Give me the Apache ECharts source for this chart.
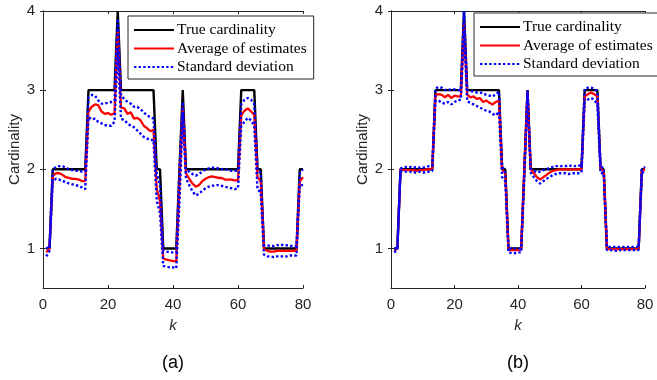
<!DOCTYPE html>
<html>
<head>
<meta charset="utf-8">
<script src="https://cdn.jsdelivr.net/npm/echarts@6/dist/echarts.min.js"></script>
<style>html,body{margin:0;padding:0;background:#fff}#c{width:657px;height:380px}</style>
</head>
<body>
<div id="c"></div>
<script>
var kSteps = [1,2,3,4,5,6,7,8,9,10,11,12,13,14,15,16,17,18,19,20,21,22,23,24,25,26,27,28,29,30,31,32,33,34,35,36,37,38,39,40,41,42,43,44,45,46,47,48,49,50,51,52,53,54,55,56,57,58,59,60,61,62,63,64,65,66,67,68,69,70,71,72,73,74,75,76,77,78,79,80];

var trueCard = [1,1,2,2,2,2,2,2,2,2,2,2,2,3,3,3,3,3,3,3,3,3,4,3,3,3,3,3,3,3,3,3,3,3,2,2,1,1,1,1,1,2,3,2,2,2,2,2,2,2,2,2,2,2,2,2,2,2,2,2,3,3,3,3,3,2,2,1,1,1,1,1,1,1,1,1,1,1,2,2];

var avgA = [0.95,1.0,1.92,1.95,1.95,1.93,1.90,1.89,1.88,1.88,1.87,1.85,1.85,
  2.73,2.79,2.82,2.81,2.73,2.70,2.71,2.69,2.71,3.75,
  2.78,2.77,2.70,2.72,2.64,2.65,2.62,2.55,2.52,2.48,2.50,
  1.75,1.6,0.87,0.86,0.85,0.84,0.84,1.8,2.79,
  1.95,1.88,1.82,1.78,1.80,1.85,1.88,1.90,1.91,1.90,1.89,1.89,1.87,1.87,1.87,1.86,1.86,
  2.68,2.74,2.77,2.73,2.69,1.9,1.85,
  0.99,0.97,0.96,0.96,0.97,0.97,0.97,0.97,0.97,0.97,0.97,1.85,1.9];

var upperA = [1.0,1.02,2.0,2.03,2.04,2.04,2.02,2.0,1.99,1.98,1.98,1.97,1.97,
  2.91,2.94,2.93,2.87,2.83,2.83,2.84,2.85,2.87,3.9,
  2.93,2.89,2.85,2.83,2.79,2.79,2.76,2.72,2.68,2.66,2.64,
  1.95,1.8,0.97,0.96,0.95,0.95,0.95,2.0,2.85,
  2.0,1.97,1.94,1.92,1.94,1.97,2.0,2.01,2.02,2.02,2.01,2.0,2.0,1.99,1.98,1.98,1.98,
  2.82,2.88,2.9,2.88,2.82,2.0,1.95,
  1.04,1.04,1.03,1.03,1.04,1.05,1.04,1.04,1.03,1.03,1.03,1.95,2.0];

var lowerA = [0.9,0.97,1.85,1.88,1.87,1.85,1.84,1.82,1.81,1.80,1.79,1.77,1.75,
  2.66,2.63,2.64,2.60,2.58,2.56,2.55,2.55,2.60,3.5,
  2.64,2.62,2.58,2.55,2.53,2.49,2.45,2.41,2.39,2.37,2.37,
  1.6,1.45,0.78,0.77,0.76,0.76,0.75,1.6,2.7,
  1.88,1.8,1.72,1.67,1.69,1.73,1.76,1.78,1.79,1.8,1.8,1.79,1.78,1.77,1.76,1.75,1.76,
  2.55,2.6,2.65,2.62,2.55,1.75,1.7,
  0.92,0.9,0.9,0.89,0.9,0.9,0.9,0.9,0.91,0.91,0.91,1.8,1.8];

var avgB = [0.97,1.0,2.0,1.99,1.99,1.99,1.99,1.98,1.99,1.99,2.0,2.0,2.0,
  2.94,2.95,2.94,2.91,2.94,2.9,2.93,2.92,2.92,3.85,
  2.94,2.91,2.92,2.89,2.9,2.85,2.87,2.84,2.82,2.85,2.87,
  2.0,1.95,0.98,0.98,0.98,0.98,0.99,2.0,2.98,
  2.0,1.95,1.9,1.87,1.9,1.93,1.96,1.98,1.99,2.0,2.0,2.0,2.0,2.0,2.0,2.0,2.0,
  2.92,2.95,2.97,2.95,2.92,2.0,1.98,
  0.99,0.99,0.99,0.99,0.99,0.99,0.99,0.99,0.99,0.99,0.99,1.98,2.0];

var upperB = [1.0,1.0,2.01,2.02,2.03,2.03,2.02,2.03,2.02,2.02,2.03,2.04,2.05,
  3.02,3.04,3.03,3.0,3.01,3.0,3.01,3.0,3.0,4.0,
  3.0,2.99,2.98,2.97,2.97,2.96,2.94,2.93,2.92,2.95,2.98,
  2.05,1.95,1.0,1.0,1.0,1.0,1.0,2.0,3.0,
  2.01,1.98,1.96,1.97,1.99,2.0,2.02,2.03,2.04,2.04,2.04,2.04,2.05,2.04,2.04,2.05,2.04,
  3.02,3.03,3.03,3.02,2.98,2.05,2.0,
  1.02,1.02,1.02,1.02,1.02,1.02,1.02,1.02,1.02,1.02,1.02,2.0,2.03];

var lowerB = [0.95,0.98,1.98,1.97,1.97,1.97,1.96,1.96,1.97,1.96,1.96,1.97,1.98,
  2.86,2.87,2.84,2.83,2.85,2.82,2.85,2.87,2.88,3.75,
  2.86,2.84,2.82,2.8,2.78,2.76,2.74,2.73,2.7,2.68,2.73,
  1.9,1.85,0.95,0.94,0.94,0.95,0.95,1.9,2.95,
  1.96,1.9,1.85,1.82,1.85,1.88,1.9,1.93,1.94,1.95,1.95,1.95,1.94,1.95,1.95,1.95,1.96,
  2.85,2.88,2.9,2.88,2.82,1.95,1.95,
  0.98,0.98,0.98,0.97,0.98,0.98,0.98,0.98,0.98,0.98,0.98,1.95,1.98];

var xTicks = [0, 20, 40, 60, 80];
var yTicks = [1, 2, 3, 4];
var panelLabels = ['(a)', '(b)'];
var names = ['True cardinality', 'Average of estimates', 'Standard deviation'];

function pairs(vals) { return kSteps.map(function (k, i) { return [k, vals[i]]; }); }

var axisColor = '#262626';
var grids = [
  { left: 43, top: 11, width: 260, height: 277 },
  { left: 391, top: 11, width: 254, height: 277 }
];
var xAxes = [], yAxes = [], series = [], legends = [], graphics = [];
var panels = [
  { avg: avgA, up: upperA, lo: lowerA, legendLeft: 128, legendTop: 16 },
  { avg: avgB, up: upperB, lo: lowerB, legendLeft: 474, legendTop: 13 }
];

panels.forEach(function (p, g) {
  var common = {
    gridIndex: g, type: 'value', min: 0, max: 80, interval: 20,
    axisLine: { show: true, lineStyle: { color: axisColor, width: 1 } },
    splitLine: { show: false }
  };
  xAxes.push(Object.assign({}, common, {
    position: 'bottom',
    name: 'k', nameLocation: 'middle', nameGap: 30,
    nameTextStyle: { fontFamily: 'Liberation Sans', fontSize: 15, fontStyle: 'italic', color: axisColor },
    axisLabel: { show: true, color: axisColor, fontFamily: 'Liberation Sans', fontSize: 15, margin: 9,
      customValues: xTicks },
    axisTick: { show: true, inside: true, length: 3, lineStyle: { color: axisColor }, customValues: xTicks }
  }));
  xAxes.push(Object.assign({}, common, {
    position: 'top', axisLabel: { show: false },
    axisTick: { show: true, inside: true, length: 3, lineStyle: { color: axisColor }, customValues: xTicks }
  }));
  var ycommon = {
    gridIndex: g, type: 'value', min: 0.5, max: 4,
    axisLine: { show: true, lineStyle: { color: axisColor, width: 1 } },
    splitLine: { show: false }
  };
  yAxes.push(Object.assign({}, ycommon, {
    position: 'left',
    name: 'Cardinality', nameLocation: 'middle', nameGap: 21,
    nameTextStyle: { fontFamily: 'Liberation Sans', fontSize: 15, color: axisColor },
    axisLabel: { show: true, color: axisColor, fontFamily: 'Liberation Sans', fontSize: 15, margin: 8,
      customValues: yTicks },
    axisTick: { show: true, inside: true, length: 3, lineStyle: { color: axisColor }, customValues: yTicks }
  }));
  yAxes.push(Object.assign({}, ycommon, {
    position: 'right', axisLabel: { show: false },
    axisTick: { show: true, inside: true, length: 3, lineStyle: { color: axisColor }, customValues: yTicks }
  }));
  var xi = g * 2, yi = g * 2;
  series.push({ name: names[0], type: 'line', xAxisIndex: xi, yAxisIndex: yi, data: pairs(trueCard),
    symbol: 'none', lineStyle: { color: '#000000', width: 2.4 }, itemStyle: { color: '#000000' }, z: 2, animation: false });
  series.push({ name: names[1], type: 'line', xAxisIndex: xi, yAxisIndex: yi, data: pairs(p.avg),
    symbol: 'none', lineStyle: { color: '#ff0000', width: 2.3 }, itemStyle: { color: '#ff0000' }, z: 3, animation: false });
  series.push({ name: names[2], type: 'line', xAxisIndex: xi, yAxisIndex: yi, data: pairs(p.up),
    symbol: 'none', lineStyle: { color: '#0000ff', width: 2.4, type: [2.4, 2.2] }, itemStyle: { color: '#0000ff' }, z: 4, animation: false });
  series.push({ name: names[2], type: 'line', xAxisIndex: xi, yAxisIndex: yi, data: pairs(p.lo),
    symbol: 'none', lineStyle: { color: '#0000ff', width: 2.4, type: [2.4, 2.2] }, itemStyle: { color: '#0000ff' }, z: 4, animation: false });

  legends.push({
    orient: 'vertical', left: p.legendLeft, top: p.legendTop,
    data: names, selectedMode: false,
    backgroundColor: '#ffffff', borderColor: axisColor, borderWidth: 1,
    padding: [6, 7, 4, 5], itemGap: 2.5, itemWidth: 40, itemHeight: 15,
    itemStyle: { opacity: 0 },
    textStyle: { fontFamily: 'Liberation Serif', fontSize: 15.5, lineHeight: 15, color: '#000000', padding: [0, 0, 0, -2] },
    z: 10
  });
  var g0 = grids[g];
  graphics.push({ type: 'text', x: g0.left + g0.width / 2, y: 363,
    style: { text: panelLabels[g], fill: '#000000', font: '18px "Liberation Sans"', textAlign: 'center', textVerticalAlign: 'middle' } });
});

var chart = echarts.init(document.getElementById('c'), null, { renderer: 'canvas' });
chart.setOption({
  animation: false,
  grid: grids,
  xAxis: xAxes,
  yAxis: yAxes,
  legend: legends,
  series: series,
  graphic: graphics
});
</script>
</body>
</html>
